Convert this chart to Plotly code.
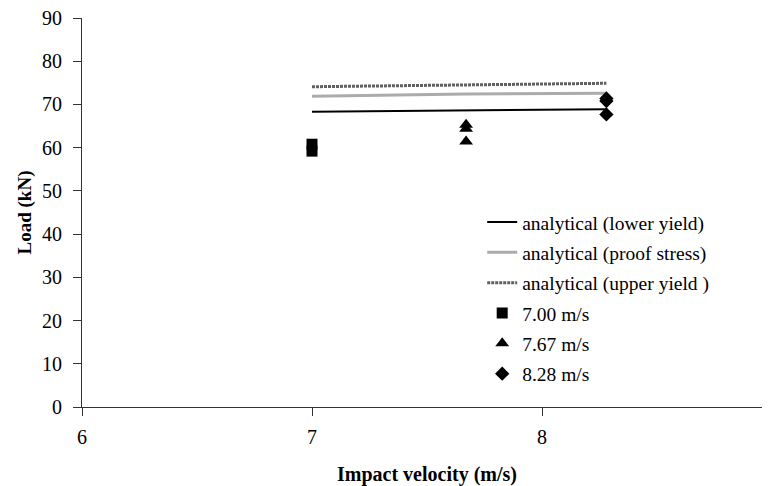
import plotly.graph_objects as go

# Analytical predictions (kN) vs impact velocity (m/s)
vel_analytical = [7.00, 7.67, 8.28]
lower_yield = [68.3, 68.6, 68.9]
proof_stress = [71.9, 72.4, 72.6]
upper_yield = [74.1, 74.6, 74.9]

# Experimental results
v700_x = [7.00, 7.00]
v700_y = [60.8, 59.2]
v767_x = [7.67, 7.67, 7.67]
v767_y = [65.3, 64.4, 61.4]
v828_x = [8.28, 8.28, 8.28]
v828_y = [71.4, 70.8, 67.7]

x_ticks = [6, 7, 8, 9]
y_ticks = list(range(0, 91, 10))

FONT = "Liberation Serif"

fig = go.Figure()
fig.add_trace(go.Scatter(x=vel_analytical, y=lower_yield, mode="lines",
                         name="analytical (lower yield)", legendgroup="a",
                         line=dict(color="black", width=2)))
fig.add_trace(go.Scatter(x=vel_analytical, y=proof_stress, mode="lines",
                         name="analytical (proof stress)", legendgroup="b",
                         line=dict(color="#ababab", width=3)))
fig.add_trace(go.Scatter(x=vel_analytical, y=upper_yield, mode="lines",
                         name="analytical (upper yield )", legendgroup="c",
                         line=dict(color="#606060", width=3, dash="3px,1px")))
fig.add_trace(go.Scatter(x=v700_x, y=v700_y, mode="markers", name="7.00 m/s",
                         legendgroup="d",
                         marker=dict(symbol="square", size=11, color="black")))
fig.add_trace(go.Scatter(x=v767_x, y=v767_y, mode="markers", name="7.67 m/s",
                         legendgroup="e",
                         marker=dict(symbol="triangle-up", size=12, color="black")))
fig.add_trace(go.Scatter(x=v828_x, y=v828_y, mode="markers", name="8.28 m/s",
                         legendgroup="f",
                         marker=dict(symbol="diamond", size=11, color="black")))

fig.update_layout(
    width=770, height=486,
    margin=dict(l=74, r=6, t=10, b=87),
    paper_bgcolor="white", plot_bgcolor="white",
    font=dict(family=FONT, size=20, color="black"),
    showlegend=True,
    legend=dict(x=0.58, y=0.525, xanchor="left", yanchor="top",
                bgcolor="rgba(0,0,0,0)", tracegroupgap=2,
                font=dict(family=FONT, size=19.5)),
    xaxis=dict(range=[6, 9], tickvals=x_ticks, ticktext=[str(t) for t in x_ticks],
               showgrid=False, zeroline=False, showline=True, linecolor="#333",
               linewidth=1, ticks="outside", ticklen=8, tickcolor="#333",
               automargin=False, tickfont=dict(size=20), ticklabelstandoff=4,
               ticklabeloverflow="allow",
               title=dict(text="<b>Impact velocity (m/s)</b>", standoff=19,
                          font=dict(family=FONT, size=20))),
    yaxis=dict(range=[0, 90], tickvals=y_ticks, showgrid=False, zeroline=False,
               showline=True, linecolor="#333", linewidth=1, ticks="outside",
               ticklen=8, tickcolor="#333", automargin=False, tickfont=dict(size=20),
               ticklabelstandoff=7, ticklabeloverflow="allow",
               title=dict(text="<b>Load (kN)</b>", standoff=5,
                          font=dict(family=FONT, size=19))),
)

fig.write_html("out.html")
